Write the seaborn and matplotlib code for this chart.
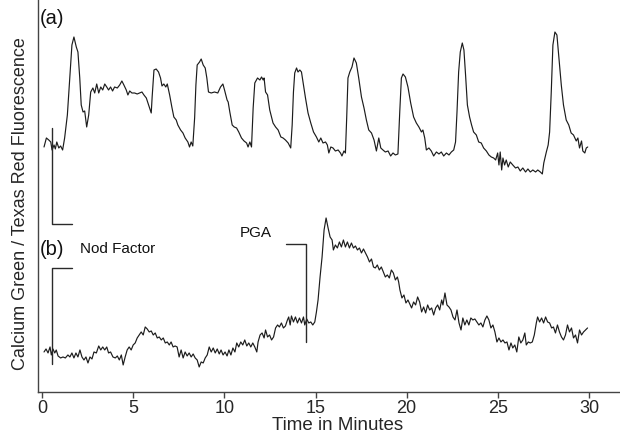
import pandas as pd
import seaborn as sns
import numpy as np
import matplotlib.pyplot as plt

# trace (a): time in minutes, ratio (arbitrary units, already offset upward)
time_a = [0.11, 0.24, 0.37, 0.48, 0.55, 0.66, 0.73, 0.81, 0.92, 1.02, 1.13, 1.24, 1.39, 1.52, 1.64, 1.75,
          1.88, 1.97, 2.07, 2.15, 2.25, 2.34, 2.45, 2.56, 2.67, 2.79, 2.89, 3.00, 3.11, 3.22, 3.33, 3.44,
          3.55, 3.65, 3.76, 3.87, 3.98, 4.13, 4.26, 4.38, 4.49, 4.62, 4.71, 4.81, 4.93, 5.08, 5.22, 5.35,
          5.48, 5.59, 5.72, 5.81, 5.90, 5.99, 6.04, 6.14, 6.26, 6.39, 6.50, 6.58, 6.68, 6.79, 6.87, 7.00,
          7.12, 7.23, 7.36, 7.45, 7.60, 7.73, 7.85, 8.00, 8.09, 8.18, 8.27, 8.37, 8.44, 8.51, 8.64, 8.73,
          8.84, 8.95, 9.04, 9.13, 9.28, 9.46, 9.64, 9.79, 9.92, 10.01, 10.15, 10.21, 10.30, 10.43, 10.54,
          10.67, 10.79, 10.94, 11.08, 11.22, 11.30, 11.40, 11.49, 11.58, 11.67, 11.82, 11.95, 12.04, 12.13,
          12.18, 12.26, 12.37, 12.49, 12.67, 12.81, 12.95, 13.10, 13.22, 13.35, 13.50, 13.64, 13.72, 13.79,
          13.86, 13.96, 14.04, 14.14, 14.23, 14.34, 14.45, 14.59, 14.74, 14.89, 15.05, 15.18, 15.29, 15.41,
          15.55, 15.65, 15.73, 15.84, 15.96, 16.09, 16.24, 16.37, 16.45, 16.56, 16.64, 16.71, 16.78, 16.88,
          17.00, 17.11, 17.24, 17.37, 17.52, 17.66, 17.79, 17.92, 18.07, 18.21, 18.34, 18.47, 18.58, 18.70,
          18.83, 18.98, 19.12, 19.25, 19.38, 19.52, 19.62, 19.71, 19.80, 19.93, 20.07, 20.22, 20.38, 20.53,
          20.67, 20.81, 20.89, 20.99, 21.08, 21.22, 21.35, 21.48, 21.63, 21.77, 21.90, 22.03, 22.18, 22.32,
          22.45, 22.58, 22.68, 22.76, 22.85, 22.94, 23.05, 23.14, 23.23, 23.33, 23.45, 23.56, 23.67, 23.82,
          23.95, 24.09, 24.22, 24.37, 24.51, 24.64, 24.77, 24.88, 24.99, 25.06, 25.13, 25.21, 25.28, 25.37,
          25.46, 25.57, 25.68, 25.82, 25.97, 26.10, 26.23, 26.37, 26.52, 26.65, 26.78, 26.92, 27.07, 27.19,
          27.33, 27.44, 27.52, 27.66, 27.76, 27.84, 27.93, 28.02, 28.13, 28.24, 28.35, 28.48, 28.60, 28.75,
          28.89, 29.02, 29.15, 29.30, 29.39, 29.48, 29.59, 29.66, 29.77, 29.85, 29.93]
ratio_a = [245, 254, 252, 250, 242, 247, 243, 250, 244, 246, 242, 254, 277, 314, 347, 355,
           345, 340, 314, 287, 280, 281, 265, 277, 300, 304, 299, 308, 299, 305, 302, 308,
           305, 302, 305, 301, 305, 304, 307, 311, 307, 302, 297, 301, 299, 299, 298, 299,
           300, 297, 294, 289, 284, 279, 295, 322, 323, 320, 314, 306, 308, 305, 308, 297,
           285, 275, 272, 267, 262, 259, 254, 250, 245, 250, 246, 274, 307, 327, 330, 333,
           327, 324, 314, 300, 299, 300, 299, 305, 308, 302, 292, 290, 280, 267, 265,
           264, 260, 254, 251, 249, 245, 250, 245, 284, 309, 314, 312, 315, 312,
           314, 300, 297, 282, 269, 265, 262, 255, 254, 252, 249, 244, 267, 300,
           319, 324, 320, 322, 320, 307, 294, 279, 269, 260, 255, 250, 254, 249,
           250, 247, 239, 245, 244, 241, 242, 239, 236, 241, 239, 274, 314, 320,
           325, 334, 329, 314, 295, 284, 272, 262, 259, 252, 241, 254, 244, 242,
           240, 241, 236, 239, 237, 238, 280, 314, 318, 315, 305, 289, 275, 269,
           265, 260, 262, 254, 242, 244, 241, 236, 240, 238, 240, 236, 239, 237,
           240, 242, 250, 280, 320, 340, 349, 342, 317, 287, 275, 267, 260, 257,
           250, 249, 244, 241, 237, 235, 234, 232, 239, 227, 240, 222, 234, 227,
           232, 225, 230, 227, 224, 225, 221, 224, 220, 223, 220, 222, 220, 222,
           220, 218, 229, 240, 247, 260, 300, 347, 360, 357, 334, 307, 287, 272,
           267, 259, 257, 251, 254, 244, 251, 241, 239, 244, 245]

# trace (b)
time_b = [0.11, 0.22, 0.33, 0.44, 0.51, 0.60, 0.70, 0.78, 0.88, 1.02, 1.15, 1.28, 1.42, 1.53, 1.64, 1.75,
          1.86, 1.97, 2.08, 2.19, 2.30, 2.41, 2.52, 2.63, 2.74, 2.85, 2.98, 3.11, 3.22, 3.33, 3.44, 3.55,
          3.65, 3.76, 3.89, 4.02, 4.13, 4.24, 4.35, 4.45, 4.56, 4.67, 4.78, 4.89, 5.00, 5.11, 5.22, 5.33,
          5.44, 5.55, 5.66, 5.77, 5.88, 5.99, 6.10, 6.21, 6.32, 6.43, 6.54, 6.65, 6.76, 6.87, 6.98, 7.08,
          7.19, 7.30, 7.41, 7.52, 7.63, 7.74, 7.85, 7.96, 8.07, 8.18, 8.29, 8.40, 8.51, 8.62, 8.73, 8.84,
          8.95, 9.06, 9.17, 9.28, 9.39, 9.50, 9.61, 9.72, 9.82, 9.93, 10.04, 10.15, 10.25, 10.36, 10.47,
          10.58, 10.68, 10.79, 10.90, 11.01, 11.12, 11.23, 11.34, 11.45, 11.56, 11.67, 11.78, 11.85, 11.96,
          12.07, 12.18, 12.26, 12.37, 12.48, 12.59, 12.70, 12.81, 12.92, 13.02, 13.13, 13.24, 13.35, 13.46,
          13.53, 13.61, 13.68, 13.79, 13.90, 14.01, 14.12, 14.23, 14.34, 14.41, 14.52, 14.63, 14.74, 14.85,
          14.96, 15.05, 15.14, 15.25, 15.36, 15.47, 15.58, 15.69, 15.80, 15.91, 15.98, 16.09, 16.20, 16.31,
          16.42, 16.53, 16.64, 16.75, 16.86, 16.97, 17.08, 17.19, 17.30, 17.41, 17.52, 17.63, 17.74, 17.85,
          17.96, 18.07, 18.18, 18.28, 18.39, 18.50, 18.61, 18.72, 18.83, 18.94, 19.05, 19.16, 19.27, 19.38,
          19.49, 19.56, 19.63, 19.74, 19.85, 19.96, 20.07, 20.27, 20.38, 20.49, 20.60, 20.71, 20.82, 20.93,
          21.04, 21.15, 21.26, 21.37, 21.48, 21.59, 21.70, 21.81, 21.92, 21.99, 22.10, 22.21, 22.32, 22.43,
          22.54, 22.65, 22.76, 22.87, 22.98, 23.08, 23.19, 23.30, 23.41, 23.52, 23.63, 23.74, 23.85, 23.96,
          24.07, 24.18, 24.29, 24.40, 24.51, 24.62, 24.73, 24.84, 24.95, 25.06, 25.17, 25.28, 25.39, 25.50,
          25.61, 25.72, 25.82, 25.93, 26.04, 26.15, 26.26, 26.37, 26.48, 26.56, 26.67, 26.78, 26.89, 27.00,
          27.11, 27.18, 27.29, 27.40, 27.51, 27.62, 27.73, 27.84, 27.95, 28.05, 28.16, 28.27, 28.38, 28.49,
          28.60, 28.71, 28.82, 28.93, 29.04, 29.15, 29.26, 29.37, 29.48, 29.59, 29.70, 29.81, 29.92]
ratio_b = [40, 43, 39, 45, 37, 43, 39, 42, 36, 34, 35, 34, 37, 35, 39, 34,
           39, 35, 42, 35, 32, 35, 29, 35, 33, 40, 39, 46, 42, 45, 42, 45,
           39, 40, 35, 34, 36, 32, 37, 27, 35, 42, 45, 42, 47, 49, 54, 57,
           60, 57, 65, 63, 60, 61, 57, 59, 54, 55, 52, 54, 49, 50, 47, 50,
           45, 46, 45, 35, 42, 34, 40, 36, 39, 35, 38, 34, 32, 25, 30, 29,
           34, 37, 45, 40, 44, 39, 43, 38, 42, 37, 40, 36, 42, 37, 44,
           40, 49, 45, 50, 47, 52, 46, 49, 45, 49, 45, 40, 50, 57,
           59, 54, 62, 55, 57, 52, 55, 64, 67, 65, 69, 64, 66, 72,
           75, 67, 76, 70, 75, 69, 74, 69, 75, 67, 73, 69, 70, 67,
           70, 80, 92, 115, 135, 162, 174, 164, 155, 152, 142, 147, 144, 150,
           145, 152, 145, 150, 144, 149, 144, 146, 142, 144, 139, 143, 139, 135,
           130, 133, 125, 124, 127, 122, 125, 120, 115, 117, 114, 122, 119, 112,
           115, 110, 102, 94, 97, 89, 92, 84, 90, 87, 95, 90, 80, 85,
           79, 87, 82, 84, 77, 84, 87, 82, 92, 87, 99, 87, 85, 82,
           75, 72, 82, 69, 62, 74, 67, 72, 67, 74, 72, 73, 70, 67,
           69, 65, 72, 76, 72, 64, 67, 60, 50, 54, 50, 52, 49, 50,
           42, 49, 44, 47, 40, 55, 49, 52, 59, 47, 50, 49, 50, 57,
           69, 75, 70, 74, 69, 75, 70, 69, 64, 65, 59, 67, 60, 55,
           52, 57, 67, 60, 64, 54, 57, 49, 62, 57, 60, 62, 64]

# stimulus markers: [time, top, bottom]
nod_factor = [0.53, 124, 28]
pga = [14.50, 148, 50]
scale_bar = [0.53, 264, 168]   # bracket under trace (a)
bracket_arm = 1.1              # minutes

df = pd.concat([
    pd.DataFrame({'Time': time_a, 'Ratio': ratio_a, 'Trace': 'a'}),
    pd.DataFrame({'Time': time_b, 'Ratio': ratio_b, 'Trace': 'b'}),
])

sns.set_theme(style="ticks")
plt.rcParams['font.family'] = ['Liberation Sans', 'DejaVu Sans']

fig = plt.figure(figsize=(6.2, 4.36), dpi=100)
ax = fig.add_axes([0.0613, 0.101, 0.9387, 0.899])

sns.lineplot(data=df, x='Time', y='Ratio', hue='Trace', units='Trace', estimator=None, sort=False,
             palette={'a': '#1c1c1c', 'b': '#1c1c1c'}, linewidth=0.85, legend=False, ax=ax)

lc = '#2a2a2a'
# bracket under trace (a)
ax.plot([scale_bar[0], scale_bar[0], scale_bar[0] + bracket_arm],
        [scale_bar[1], scale_bar[2], scale_bar[2]], color=lc, lw=1)
# Nod Factor marker
ax.plot([nod_factor[0] + bracket_arm, nod_factor[0], nod_factor[0]],
        [nod_factor[1], nod_factor[1], nod_factor[2]], color=lc, lw=1)
# PGA marker
ax.plot([pga[0] - bracket_arm, pga[0], pga[0]],
        [pga[1], pga[1], pga[2]], color=lc, lw=1)

ax.text(-0.1, 373, '(a)', fontsize=14.5, va='center', ha='left', color='#111')
ax.text(-0.1, 142, '(b)', fontsize=14.5, va='center', ha='left', color='#111')
ax.text(2.07, 143, 'Nod Factor', fontsize=11, va='center', ha='left', color='#111')
ax.text(11.73, 159, 'PGA', fontsize=11, va='center', ha='center', color='#111')

ax.set_xlim(-0.22, 31.7)
ax.set_ylim(0, 392)
ax.set_xticks([0, 5, 10, 15, 20, 25, 30])
ax.set_yticks([])
ax.set_xlabel('Time in Minutes', fontsize=13.5)
ax.xaxis.set_label_coords(0.514, -0.064)
ax.set_ylabel('Calcium Green / Texas Red Fluorescence', fontsize=13)
ax.yaxis.set_label_coords(-0.016, 0.48)
ax.tick_params(axis='x', labelsize=13, length=4, width=1, color='#444', pad=2)
sns.despine(ax=ax)
for s in ['left', 'bottom']:
    ax.spines[s].set_color('#444')
    ax.spines[s].set_linewidth(1)

fig.savefig('out.png', dpi=100)
